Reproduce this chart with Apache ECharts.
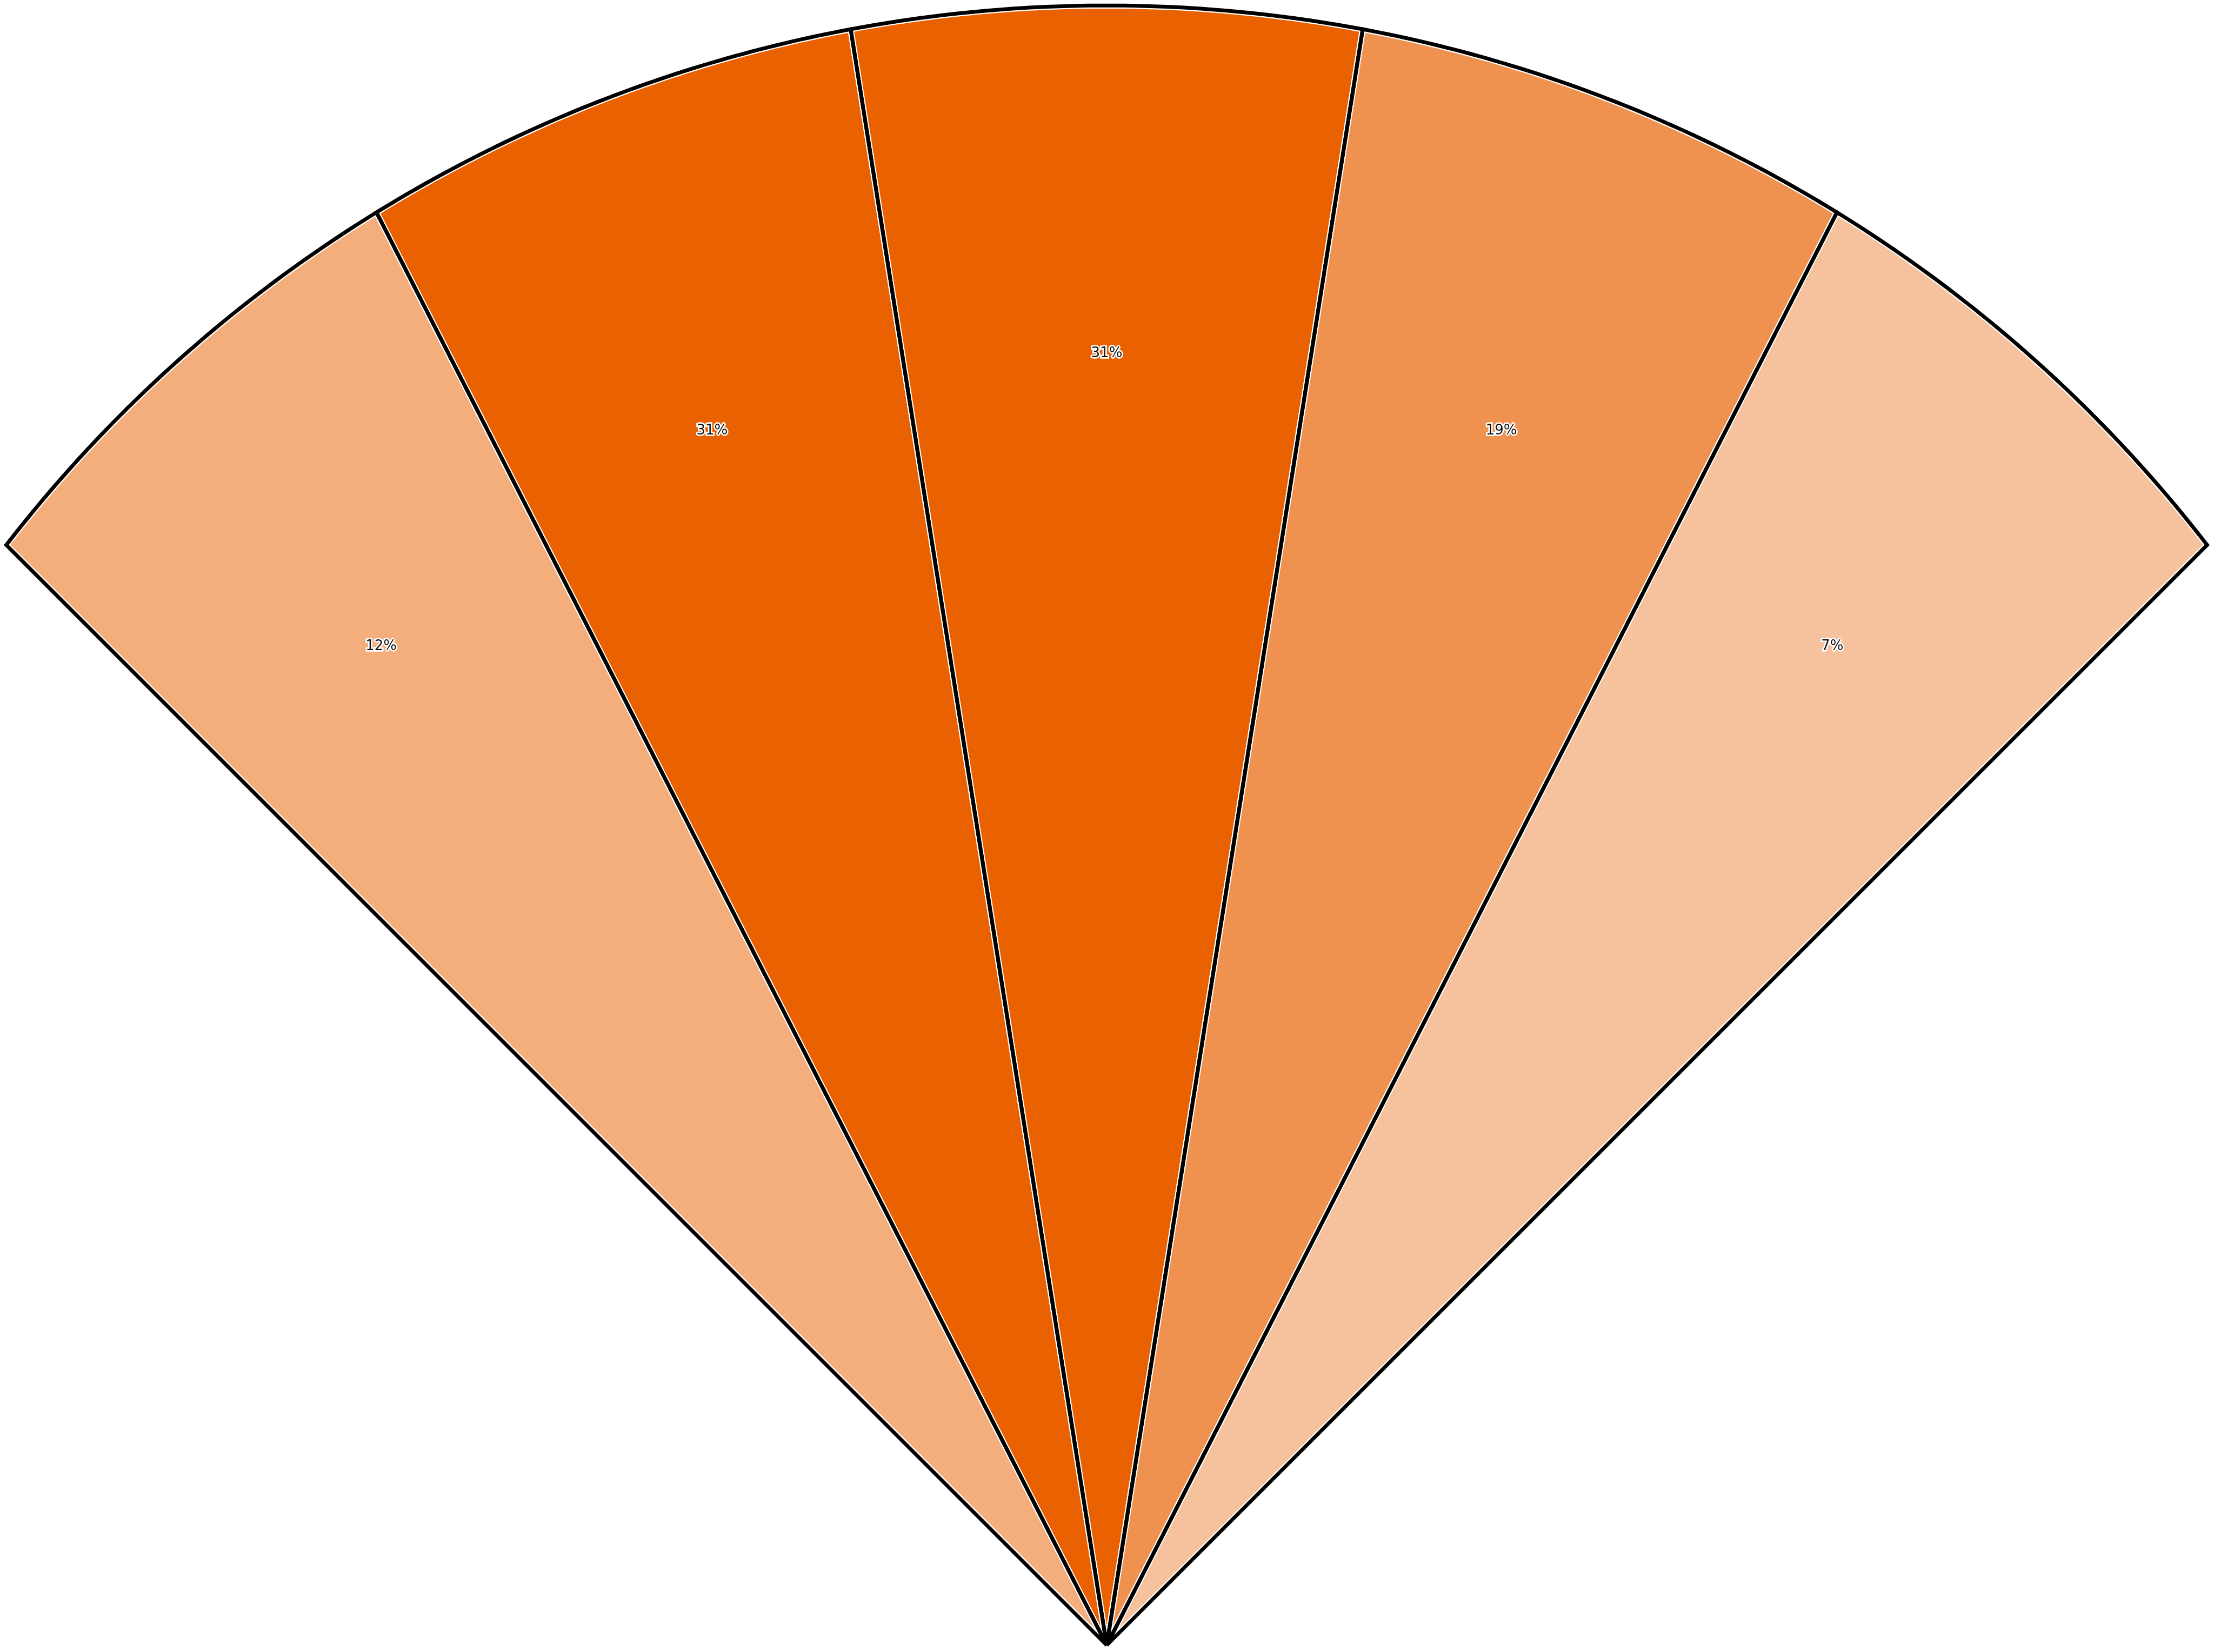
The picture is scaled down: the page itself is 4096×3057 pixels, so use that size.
<!DOCTYPE html>
<html><head><meta charset="utf-8">
<script src="https://cdn.jsdelivr.net/npm/echarts@6/dist/echarts.min.js"></script>
<style>html,body{margin:0;padding:0;background:#fff}#c{width:4096px;height:3057px}</style>
</head><body><div id="c"></div>
<script>
// ---- data ----
const categories = ['Slice 1', 'Slice 2', 'Slice 3', 'Slice 4', 'Slice 5'];
const values = [12, 31, 31, 19, 7];
const colorRange = ['#F5C29D', '#E96100'];

// ---- layout (pixels in the 4096x3057 window) ----
const S = 0.949;
const V = [2157.5 * S, 3208 * S];          // point where the slices meet
const C = [V[0], V[1] - 484 * S];          // centre of the outer arc
const R = 2713.3 * S;                      // outer arc radius
const LABEL_R = 0.75 * R;
const START_DEG = 135, END_DEG = 45;

function rayHit(deg, radius) {
  const th = deg * Math.PI / 180;
  const ux = Math.cos(th), uy = Math.sin(th);
  const d = V[1] - C[1];
  const t = d * uy + Math.sqrt(radius * radius - d * d * ux * ux);
  return [V[0] + t * ux, V[1] - t * uy];
}
function slicePoints(i, n) {
  const step = (START_DEG - END_DEG) / n;
  const a1 = START_DEG - i * step, a2 = a1 - step;
  const p1 = rayHit(a1, R), p2 = rayHit(a2, R);
  const f1 = Math.atan2(C[1] - p1[1], p1[0] - C[0]);
  const f2 = Math.atan2(C[1] - p2[1], p2[0] - C[0]);
  const pts = [V.slice()];
  const N = 60;
  for (let k = 0; k <= N; k++) {
    const f = f1 + (f2 - f1) * k / N;
    pts.push([C[0] + R * Math.cos(f), C[1] - R * Math.sin(f)]);
  }
  return pts;
}
function labelPos(i, n) {
  const step = (START_DEG - END_DEG) / n;
  return rayHit(START_DEG - (i + 0.5) * step, LABEL_R);
}

const seriesData = values.map((v, i) => ({ name: categories[i], value: [i, v] }));

const chart = echarts.init(document.getElementById('c'), null, { renderer: 'canvas' });
chart.setOption({
  backgroundColor: '#ffffff',
  animation: false,
  visualMap: {
    type: 'continuous', show: false, seriesIndex: 0, dimension: 1,
    min: Math.min(...values), max: Math.max(...values),
    inRange: { color: colorRange }
  },
  series: [
    {
      type: 'custom', coordinateSystem: 'none', z: 1,
      data: seriesData,
      renderItem: function (params, api) {
        const i = api.value(0);
        return {
          type: 'polygon',
          shape: { points: slicePoints(i, values.length) },
          style: { fill: api.visual('color'), stroke: '#ffffff', lineWidth: 11.5, lineJoin: 'miter', miterLimit: 2 }
        };
      }
    },
    {
      type: 'custom', coordinateSystem: 'none', z: 2,
      data: seriesData,
      renderItem: function (params, api) {
        const i = api.value(0);
        const v = api.value(1);
        const lp = labelPos(i, values.length);
        return {
          type: 'group',
          children: [
            {
              type: 'polygon',
              shape: { points: slicePoints(i, values.length) },
              style: { fill: 'none', stroke: '#000000', lineWidth: 7, lineJoin: 'miter', miterLimit: 2 }
            },
            {
              type: 'text', z2: 20,
              style: {
                text: v + '%', x: lp[0], y: lp[1], align: 'center', verticalAlign: 'middle',
                fontSize: 26, fontFamily: 'DejaVu Sans', fontWeight: 'normal',
                fill: '#111111', stroke: '#ffffff', lineWidth: 5.5, strokeFirst: true
              }
            }
          ]
        };
      }
    }
  ]
});
</script>
</body></html>
